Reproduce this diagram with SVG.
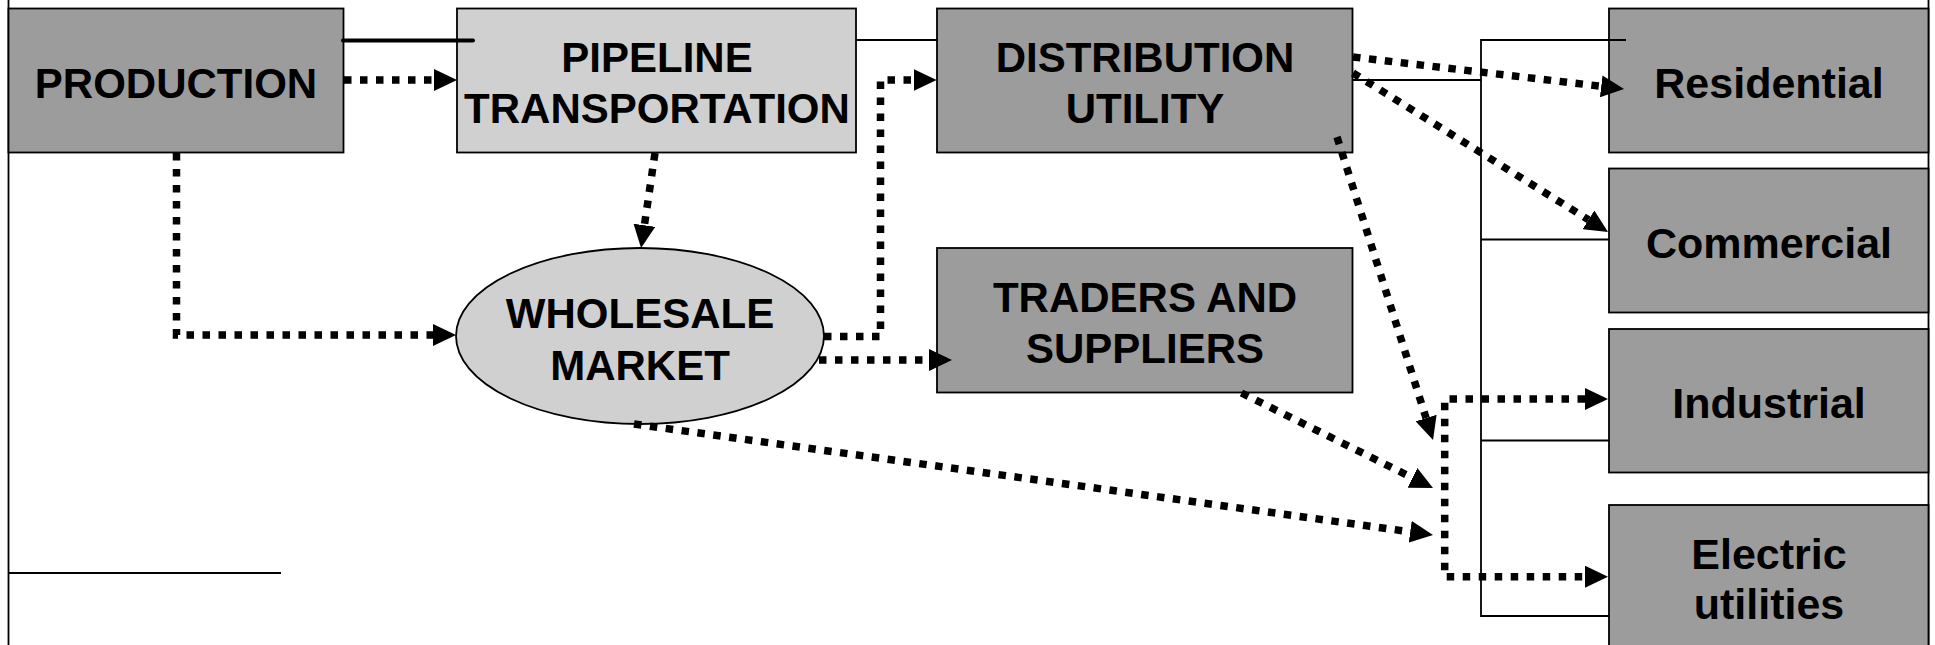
<svg xmlns="http://www.w3.org/2000/svg" width="1935" height="645" viewBox="0 0 1935 645">
  <style>
    .box { stroke: #000; stroke-width: 1.8; }
    .dark { fill: #9c9c9c; }
    .light { fill: #d0d0d0; }
    .lbl { font-family: "Liberation Sans", Arial, sans-serif; font-weight: bold; font-size: 42px; fill: #000; text-anchor: middle; }
    .cust { font-size: 43px; }
    .thin { fill: none; stroke: #000; stroke-width: 1.8; }
    .thick { fill: none; stroke: #000; stroke-width: 4; stroke-linecap: round; }
    .dot { fill: none; stroke: #000; stroke-width: 7.5; stroke-dasharray: 7.5 8.5; marker-end: url(#ah); }
  </style>
  <defs>
    <marker id="ah" viewBox="0 0 23 22" markerWidth="23" markerHeight="22" markerUnits="userSpaceOnUse" refX="0" refY="11" orient="auto-start-reverse">
      <path d="M0,0 L23,11 L0,22 z" fill="#000"/>
    </marker>
  </defs>

  <rect width="1935" height="645" fill="#fff"/>

  <!-- frame lines -->
  <g id="frame">
    <line class="thin" x1="8.5" y1="0" x2="8.5" y2="645"/>
    <line class="thin" x1="8.5" y1="573" x2="281" y2="573"/>
    <line class="thin" x1="1928.5" y1="0" x2="1928.5" y2="645"/>
  </g>

  <g id="production">
    <rect class="box dark" x="8.5" y="8.5" width="335" height="144"/>
    <text class="lbl" x="176" y="98">PRODUCTION</text>
  </g>

  <g id="pipeline">
    <rect class="box light" x="457" y="8.5" width="399" height="144"/>
    <text class="lbl" x="657" y="72">PIPELINE</text>
    <text class="lbl" x="657" y="123">TRANSPORTATION</text>
  </g>

  <g id="distribution">
    <rect class="box dark" x="937" y="8.5" width="415.5" height="144"/>
    <text class="lbl" x="1145" y="72">DISTRIBUTION</text>
    <text class="lbl" x="1145" y="123">UTILITY</text>
  </g>

  <g id="wholesale">
    <ellipse class="box light" cx="640" cy="336" rx="184" ry="88"/>
    <text class="lbl" x="640" y="328">WHOLESALE</text>
    <text class="lbl" x="640" y="380">MARKET</text>
  </g>

  <g id="traders">
    <rect class="box dark" x="937" y="248" width="415.5" height="144.5"/>
    <text class="lbl" x="1145" y="312">TRADERS AND</text>
    <text class="lbl" x="1145" y="363">SUPPLIERS</text>
  </g>

  <g id="residential">
    <rect class="box dark" x="1609" y="8.5" width="319.5" height="144"/>
    <text class="lbl cust" x="1769" y="98">Residential</text>
  </g>

  <g id="commercial">
    <rect class="box dark" x="1609" y="168.5" width="319.5" height="144"/>
    <text class="lbl cust" x="1769" y="258">Commercial</text>
  </g>

  <g id="industrial">
    <rect class="box dark" x="1609" y="329" width="319.5" height="143.5"/>
    <text class="lbl cust" x="1769" y="418">Industrial</text>
  </g>

  <g id="electric">
    <rect class="box dark" x="1609" y="505" width="319.5" height="180"/>
    <text class="lbl cust" x="1769" y="569">Electric</text>
    <text class="lbl cust" x="1769" y="619">utilities</text>
  </g>

  <g id="connectors">
    <!-- solid links -->
    <line class="thick" x1="343" y1="40.5" x2="473" y2="40.5"/>
    <line class="thin" x1="856" y1="40" x2="937" y2="40"/>
    <!-- customer bracket -->
    <path class="thin" d="M1626,40 H1481 V616 H1609"/>
    <line class="thin" x1="1353" y1="80" x2="1481" y2="80"/>
    <line class="thin" x1="1481" y1="239.5" x2="1609" y2="239.5"/>
    <line class="thin" x1="1481" y1="440.5" x2="1609" y2="440.5"/>

    <!-- dotted flows -->
    <path class="dot" d="M344,80 H434"/>
    <path class="dot" d="M176.5,153 V335 H433"/>
    <path class="dot" d="M655,153 L644.4,225.3"/>
    <path class="dot" d="M824,336.5 H880.5 V80 H913.6"/>
    <path class="dot" d="M819,360 H929"/>
    <path class="dot" d="M634,424 L1410.2,531.8"/>
    <path class="dot" d="M1241.5,393 L1412.4,477.8"/>
    <path class="dot" d="M1337,137 L1426.1,418.1"/>
    <path class="dot" d="M1353,57 L1601.2,86.3"/>
    <path class="dot" d="M1353,73 L1588.5,219.8"/>
    <path class="dot" d="M1585,399 H1444.7 V576.7 H1585" marker-start="url(#ah)"/>
  </g>
</svg>
